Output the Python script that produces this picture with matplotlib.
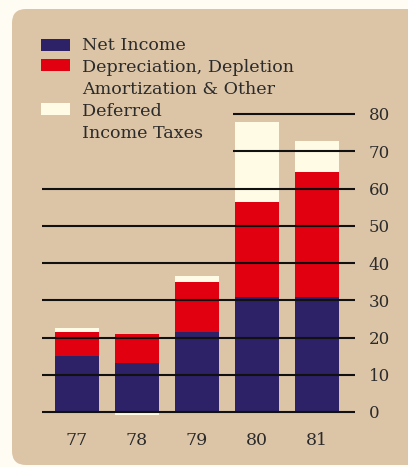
import matplotlib
matplotlib.use("Agg")
import matplotlib.pyplot as plt
from matplotlib.patches import FancyBboxPatch, Rectangle
import numpy as np

# values (millions)
years = ['77', '78', '79', '80', '81']
net_income = [15.0, 13.1, 21.6, 31.0, 31.0]
depreciation = [6.5, 7.8, 13.4, 25.5, 33.4]
deferred_taxes = [1.0, -0.8, 1.6, 21.4, 8.4]
y_ticks = [0, 10, 20, 30, 40, 50, 60, 70, 80]

legend_labels = [['Net Income'],
                 ['Depreciation, Depletion', 'Amortization & Other'],
                 ['Deferred', 'Income Taxes']]

NAVY = '#2d2168'
RED = '#e0000f'
CREAM = '#fffbe4'
PANEL = '#dcc4a6'
TEXT = '#2b2b2b'
FONT = 'DejaVu Serif'

W, H = 408, 467
fig = plt.figure(figsize=(W / 100, H / 100), dpi=100)
fig.patch.set_facecolor('#fffdf3')

# background panel + legend, drawn in pixel coordinates
bg = fig.add_axes([0, 0, 1, 1])
bg.set_xlim(0, W)
bg.set_ylim(H, 0)
bg.axis('off')
bg.add_patch(FancyBboxPatch((12, 9), 440, 456,
                            boxstyle='round,pad=0,rounding_size=14',
                            fc=PANEL, ec='none'))

colors = [NAVY, RED, CREAM]
patch_y = [39, 59, 103]
text_y = [45, 67, 112]
line_gap = 22
for c, py, ty, lines in zip(colors, patch_y, text_y, legend_labels):
    bg.add_patch(Rectangle((41, py), 29, 12, fc=c, ec='none'))
    for k, line in enumerate(lines):
        bg.text(82, ty + k * line_gap, line, fontsize=12.6, family=FONT,
                color=TEXT, va='center', ha='left')

# main chart
px_per_unit = (412 - 114) / 80
ylo, yhi = -2, 82
bottom_px = 412 + (0 - ylo) * px_per_unit
top_px = 114 - (yhi - 80) * px_per_unit
ax = fig.add_axes([42 / W, (H - bottom_px) / H, 313 / W, (bottom_px - top_px) / H])
ax.patch.set_alpha(0)

x = np.arange(len(years))
xmin, xmax = -0.583, 4.633
ax.set_xlim(xmin, xmax)
ax.set_ylim(ylo, yhi)

width = 0.72
net = np.array(net_income)
dep = np.array(depreciation)
dfr = np.array(deferred_taxes)
ax.bar(x, net, width, color=NAVY, zorder=2)
ax.bar(x, dep, width, bottom=net, color=RED, zorder=2)
dfr_bottom = np.where(dfr > 0, net + dep, 0)
ax.bar(x, dfr, width, bottom=dfr_bottom, color=CREAM, zorder=2)

# gridlines over the bars; top two leave room for the legend
for t in y_ticks:
    start = 2.6 if t >= 70 else xmin
    ax.hlines(t, start, xmax, color='#111111', lw=1.5, zorder=3)

for s in ax.spines.values():
    s.set_visible(False)
ax.yaxis.tick_right()
ax.set_yticks(y_ticks)
ax.set_yticklabels([str(t) for t in y_ticks], family=FONT, fontsize=12, color=TEXT)
ax.tick_params(axis='y', length=0, pad=10)
ax.set_xticks(x)
ax.set_xticklabels(years, family=FONT, fontsize=12.5, color=TEXT)
ax.tick_params(axis='x', length=0, pad=9)

fig.savefig('out.png', dpi=100, facecolor=fig.get_facecolor())
